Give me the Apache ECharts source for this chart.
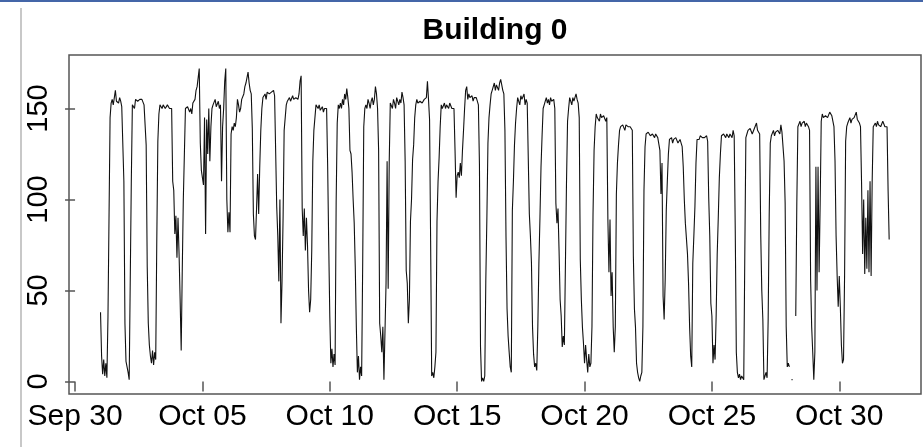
<!DOCTYPE html>
<html>
<head>
<meta charset="utf-8">
<script src="https://cdn.jsdelivr.net/npm/echarts@6/dist/echarts.min.js"></script>
<style>
html,body{margin:0;padding:0;background:#ffffff;}
#chart{width:923px;height:447px;}
</style>
</head>
<body>
<div id="chart"></div>
<script>
// Hourly electricity load, Building 0 (one array per day, 24 hourly values each)
const oct01 = [38,14,4,12,3,10,2,35,90,145,153,155,152,156,160,154,155,153,156,154,151,150,110,32];
const oct02 = [11,12,5,1,0,110,152,153,150,155,156,154,155,155,154,155,154,152,151,130,63,32,20,14];
const oct03 = [10,17,9,16,12,77,132,147,152,151,150,152,153,150,151,152,151,150,151,150,110,105,81,91];
const oct04 = [68,90,70,45,17,61,100,125,150,150,151,152,148,150,147,153,152,155,160,162,163,172,131,116];
const oct05 = [116,108,145,81,144,125,150,121,140,150,152,153,155,151,152,154,150,152,110,140,150,165,172,100];
const oct06 = [82,93,82,136,140,138,142,140,145,155,152,148,150,155,156,158,162,164,165,170,164,160,158,139];
const oct07 = [92,80,78,95,114,92,118,138,150,156,157,158,155,159,160,158,157,159,158,160,157,156,96,80];
const oct08 = [55,100,32,55,90,138,145,152,154,155,156,154,155,157,155,154,156,155,155,158,165,168,95,80];
const oct09 = [95,72,90,75,50,38,45,72,121,138,145,152,151,150,152,149,150,151,148,150,149,150,118,75];
const oct10 = [36,10,18,8,15,9,99,142,152,150,153,150,155,152,158,155,161,156,150,127,125,115,100,87];
const oct11 = [63,30,5,14,1,8,3,65,140,150,152,150,155,153,150,154,156,152,155,162,158,150,127,32];
const oct12 = [25,16,30,1,2,54,121,51,121,153,152,150,155,153,150,156,154,152,155,153,159,156,152,121];
const oct13 = [61,54,32,45,88,100,122,130,145,152,155,153,152,154,155,153,152,155,154,156,165,155,144,77];
const oct14 = [3,5,2,8,16,88,110,123,140,152,150,151,153,150,152,151,150,153,152,150,151,150,127,101];
const oct15 = [113,115,112,120,113,127,138,150,160,162,155,158,156,155,157,154,156,155,156,154,152,119,19,0];
const oct16 = [2,0,3,56,90,131,145,152,158,160,162,164,160,163,162,160,164,166,163,160,158,138,80,40];
const oct17 = [25,16,8,5,94,110,130,142,150,156,155,152,157,155,154,158,152,155,153,152,92,80,65,30];
const oct18 = [15,8,10,6,30,65,90,118,135,150,152,154,156,153,155,152,156,154,153,155,150,98,87,95];
const oct19 = [72,45,36,19,25,20,19,109,143,150,156,155,152,156,154,155,158,155,153,145,67,45,30,21];
const oct20 = [10,20,12,5,15,8,10,30,92,127,140,147,145,146,143,147,145,144,146,145,143,145,89,60];
const oct21 = [89,47,60,30,16,30,103,120,130,138,140,139,141,140,138,141,142,140,141,140,139,138,69,40];
const oct22 = [30,10,5,2,0,3,5,30,105,129,136,135,137,136,135,134,136,135,134,136,135,134,133,127];
const oct23 = [103,120,47,34,56,94,110,125,133,132,134,131,133,132,134,133,131,132,133,131,129,118,100,87];
const oct24 = [87,70,54,30,14,8,65,80,96,120,133,134,133,135,136,134,135,134,133,135,132,101,80,43];
const oct25 = [36,10,20,12,36,70,90,112,125,135,134,136,135,134,136,135,134,136,135,134,138,135,83,16];
const oct26 = [5,2,4,1,3,2,1,70,134,136,138,137,139,138,136,137,139,138,142,138,137,136,81,50];
const oct27 = [34,1,3,5,2,34,92,131,135,136,138,135,137,136,138,137,136,141,137,136,121,98,30,8];
const oct28 = [10,8,null,1,1,null,null,36,98,140,141,143,140,142,141,143,140,142,141,140,138,56,30,16];
const oct29 = [1,16,118,50,118,60,98,143,147,145,144,146,147,145,146,148,147,146,145,140,121,80,58,41];
const oct30 = [58,41,20,10,12,58,132,140,142,143,145,142,144,143,145,144,148,144,143,142,140,109,70,100];
const oct31 = [59,90,62,105,60,110,58,110,140,141,142,140,143,141,142,140,141,143,142,140,141,140,105,78];

const days = [oct01,oct02,oct03,oct04,oct05,oct06,oct07,oct08,oct09,oct10,
              oct11,oct12,oct13,oct14,oct15,oct16,oct17,oct18,oct19,oct20,
              oct21,oct22,oct23,oct24,oct25,oct26,oct27,oct28,oct29,oct30,oct31];

// time is measured in hours after Sep 30 00:00; first reading is Oct 1 00:00
const firstHour = 24;
const tickDays = [0,5,10,15,20,25,30];
const tickLabels = ['Sep 30','Oct 05','Oct 10','Oct 15','Oct 20','Oct 25','Oct 30'];
const yTicks = [0,50,100,150];
const chartTitle = 'Building 0';

const values = [].concat(...days);
const points = values.map((v, i) => [firstHour + i, v]);
const tickHours = tickDays.map(d => d * 24);

const FONT = 'Liberation Sans, Arial, sans-serif';
const chart = echarts.init(document.getElementById('chart'), null, {renderer: 'canvas'});
chart.setOption({
  animation: false,
  backgroundColor: '#ffffff',
  title: {
    text: chartTitle, left: 495, top: 16, textAlign: 'center', padding: 0,
    textStyle: {fontFamily: FONT, fontSize: 30, fontWeight: 'bold', color: '#000'}
  },
  graphic: [
    {type: 'rect', left: 0, top: 0, shape: {width: 923, height: 2}, style: {fill: '#4466a8'}, silent: true},
    {type: 'rect', left: 20, top: 8, shape: {width: 2, height: 439}, style: {fill: '#c8c8c8'}, silent: true}
  ],
  grid: {
    left: 69, top: 55, width: 852, height: 339, show: true,
    borderColor: '#555', borderWidth: 1.5, containLabel: false, outerBoundsMode: 'none'
  },
  xAxis: {
    type: 'value', min: -5.7, max: 797,
    axisLine: {show: false}, splitLine: {show: false},
    axisTick: {show: true, customValues: tickHours, length: 10, lineStyle: {color: '#555', width: 1.5}},
    axisLabel: {
      customValues: tickHours,
      formatter: v => tickLabels[tickHours.indexOf(v)] || '',
      fontFamily: FONT, fontSize: 30, color: '#000', margin: 8
    }
  },
  yAxis: {
    type: 'value', min: -6.9, max: 179.4,
    axisLine: {show: false}, splitLine: {show: false},
    axisTick: {show: true, customValues: yTicks, length: 10, lineStyle: {color: '#555', width: 1.5}},
    axisLabel: {
      customValues: yTicks, rotate: 90,
      formatter: v => String(v),
      fontFamily: FONT, fontSize: 29, color: '#000', margin: 16
    }
  },
  series: [{
    type: 'line', data: points, showSymbol: false, connectNulls: false,
    lineStyle: {color: '#111', width: 1.1}, silent: true
  }]
});
</script>
</body>
</html>
